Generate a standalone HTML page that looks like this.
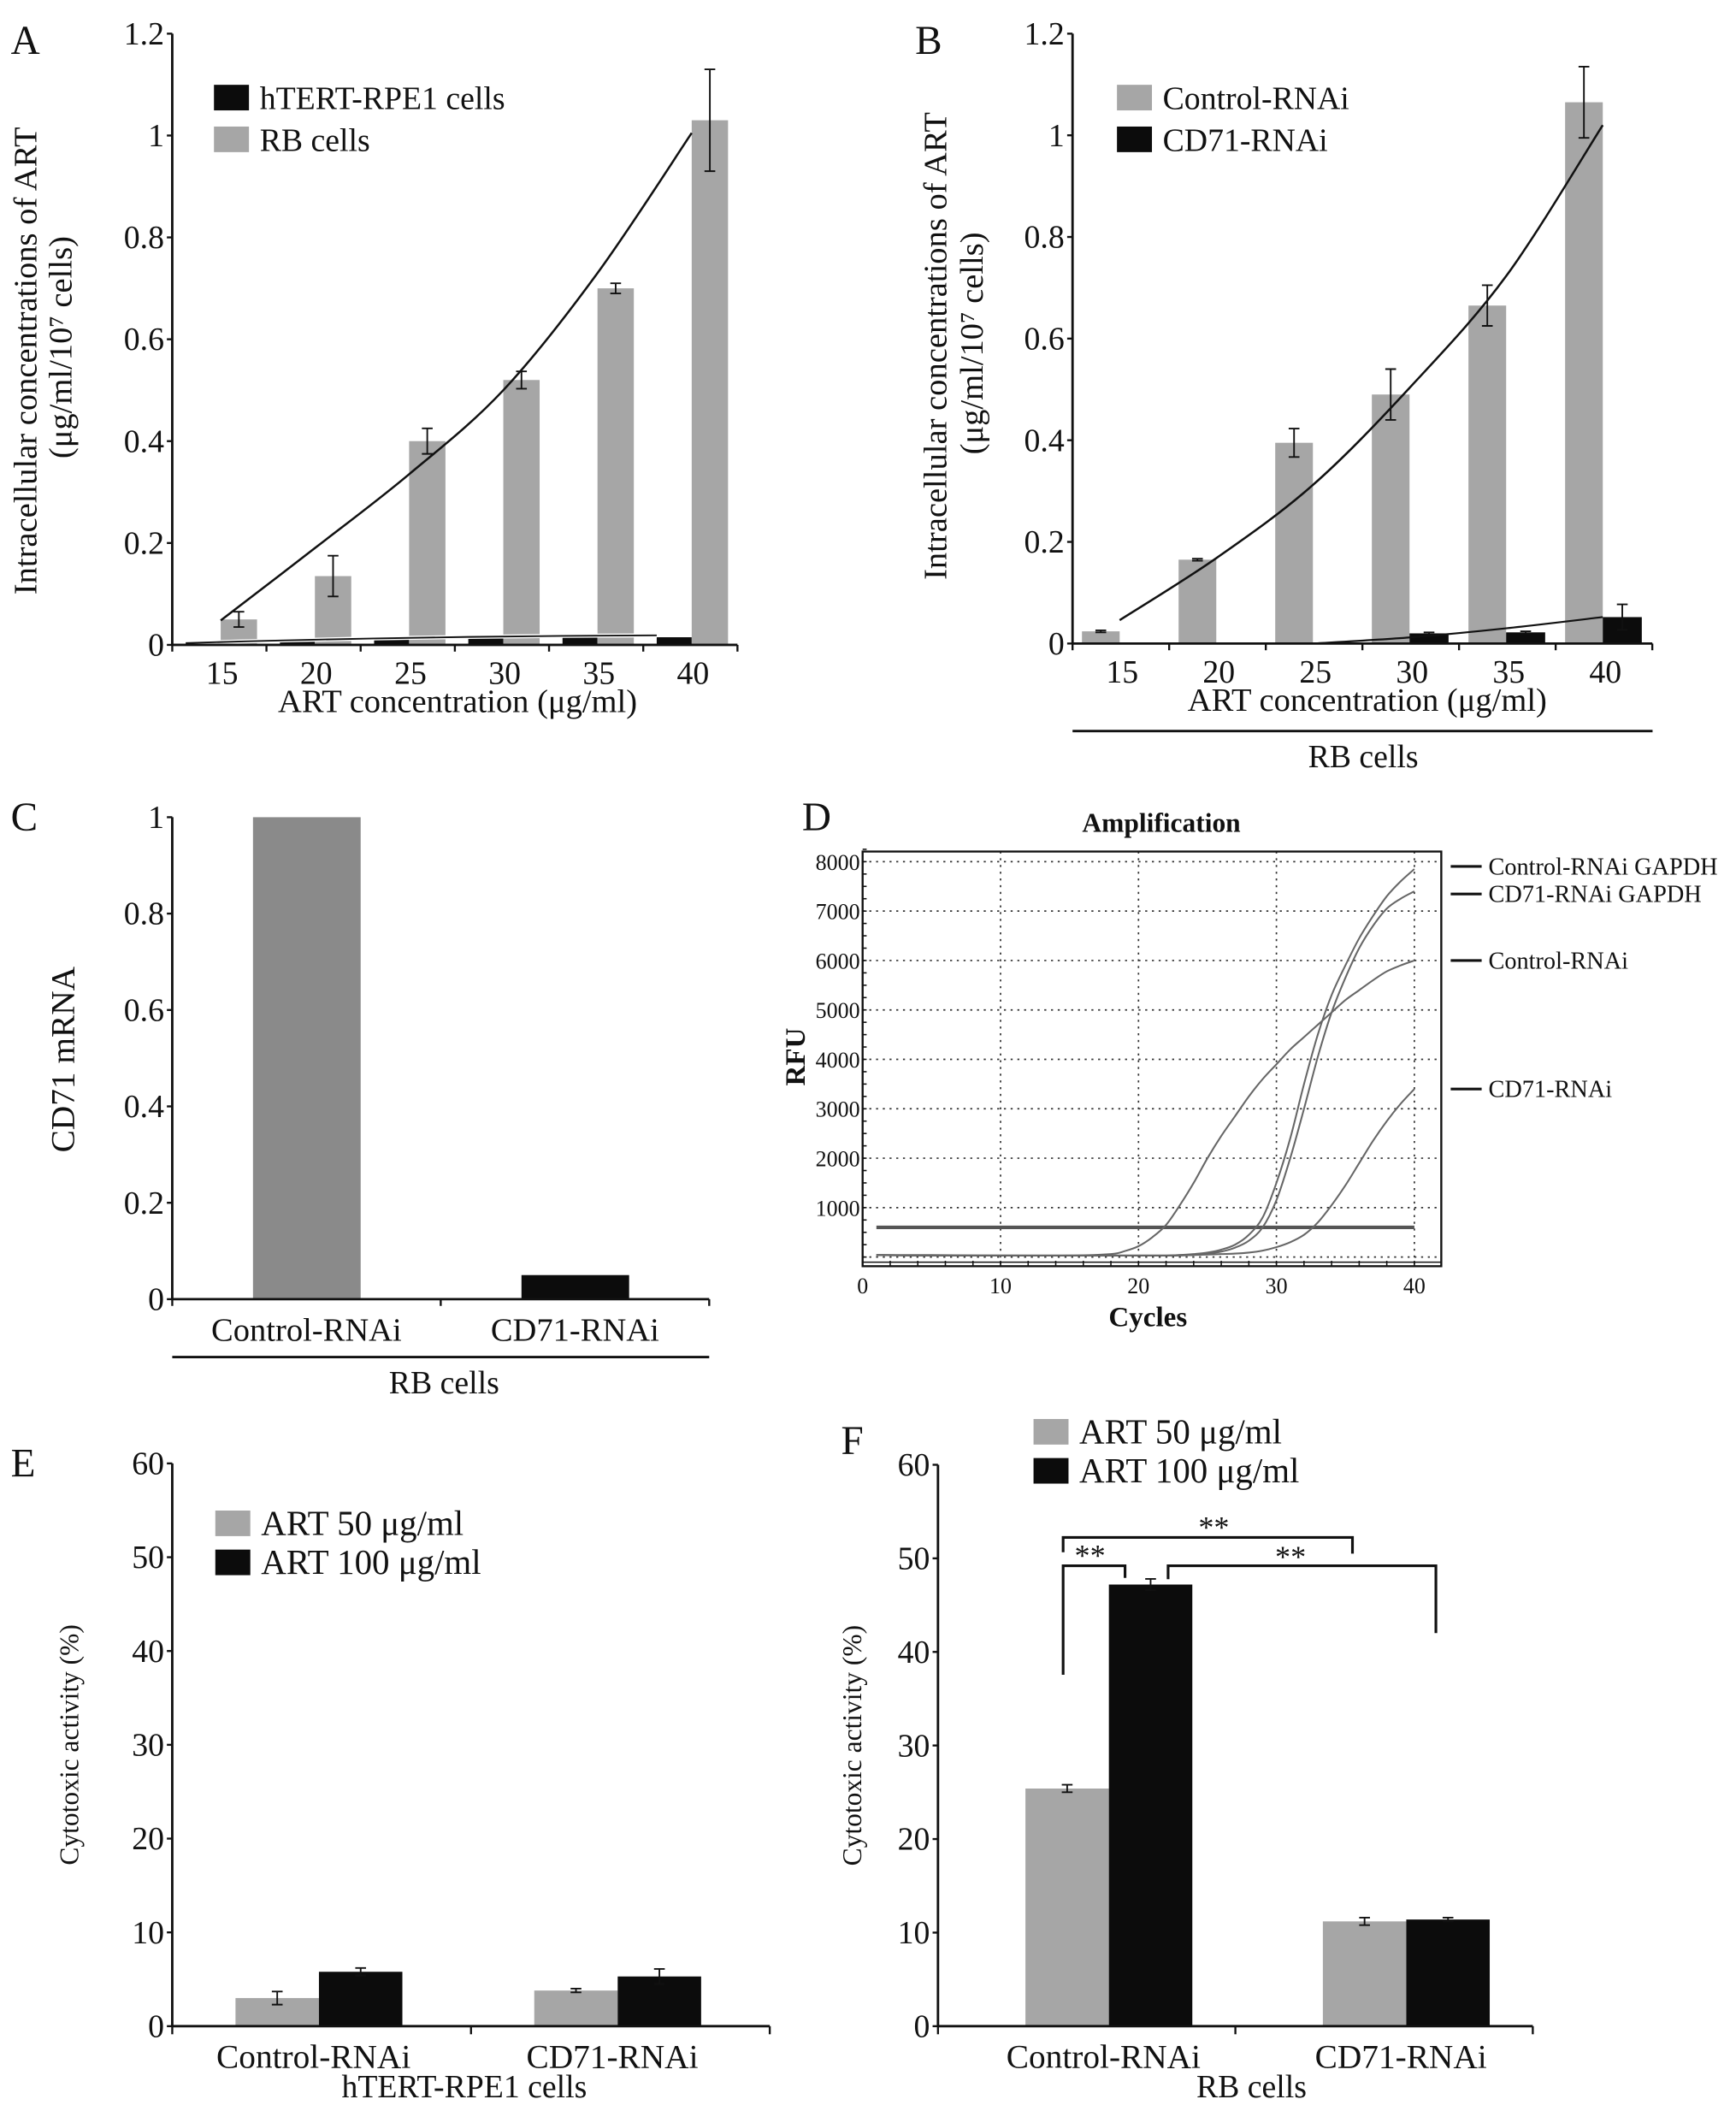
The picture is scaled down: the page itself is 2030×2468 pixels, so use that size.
<!DOCTYPE html>
<html><head><meta charset="utf-8">
<style>
html,body{margin:0;padding:0;background:#fff;}
svg{display:block;font-family:"Liberation Serif",serif;}
</style></head>
<body>
<svg id="fig" xmlns="http://www.w3.org/2000/svg" width="2030" height="2468" viewBox="0 0 1290 1568" preserveAspectRatio="none">
<rect x="0" y="0" width="1300" height="1581" fill="#fff"/>
<g font-size="30" fill="#111">
<text x="8" y="40">A</text>
<text x="680" y="40">B</text>
<text x="8" y="617">C</text>
<text x="596" y="617">D</text>
<text x="8" y="1097">E</text>
<text x="625" y="1080">F</text>
</g>
</svg>
<script>
const NS='http://www.w3.org/2000/svg';
const svg=document.getElementById('fig');
function mk(tag,attrs,parent){const e=document.createElementNS(NS,tag);for(const k in attrs)e.setAttribute(k,attrs[k]);(parent||svg).appendChild(e);return e;}
function txt(s,attrs,parent){const e=mk('text',attrs,parent);e.textContent=s;return e;}
function smooth(pts){let d='M'+pts[0][0]+','+pts[0][1];for(let i=0;i<pts.length-1;i++){const p0=pts[Math.max(0,i-1)],p1=pts[i],p2=pts[i+1],p3=pts[Math.min(pts.length-1,i+2)];const c1=[p1[0]+(p2[0]-p0[0])/6,p1[1]+(p2[1]-p0[1])/6],c2=[p2[0]-(p3[0]-p1[0])/6,p2[1]-(p3[1]-p1[1])/6];d+=' C'+c1+' '+c2+' '+p2;}return d;}
const GRAY='#a6a6a6',BLACK='#0c0c0c';

// ===== Panel A data =====
const aCats=['15','20','25','30','35','40'];
const aRpe=[0.002,0.008,0.012,0.015,0.015,0.015];
const aRb=[0.05,0.135,0.40,0.52,0.70,1.03];
const aRbErr=[0.015,0.04,0.025,0.017,0.01,0.1];
const aTrendRb=[0.048,0.19,0.335,0.5,0.73,1.005];
const aTrendRpe=[0.001,0.006,0.01,0.013,0.015,0.016];
const abTicks=[0,0.2,0.4,0.6,0.8,1,1.2];
const abTickLabels=['0','0.2','0.4','0.6','0.8','1','1.2'];
// ===== Panel B data =====
const bCats=['15','20','25','30','35','40'];
const bCtrl=[0.024,0.165,0.395,0.49,0.665,1.065];
const bCtrlErr=[0.002,0.002,0.028,0.05,0.04,0.07];
const bCd71=[0.002,0,0.002,0.02,0.022,0.052];
const bCd71Err=[0,0,0,0.002,0.002,0.025];
const bTrendCtrl=[0.046,0.168,0.312,0.503,0.723,1.02];
const bTrendCd71=[null,null,0,0.012,0.03,0.052];
// ===== Panel C data =====
const cCats=['Control-RNAi','CD71-RNAi'];
const cVals=[1.0,0.05];
const cTicks=[0,0.2,0.4,0.6,0.8,1];
const cTickLabels=['0','0.2','0.4','0.6','0.8','1'];
// ===== Panel D data =====
const dCycles=[1,5,10,15,18,19,20,21,22,23,24,25,26,27,28,29,30,31,32,33,34,35,36,37,38,39,40];
const dCtrl=[40,40,30,30,60,120,220,400,650,1050,1500,2000,2450,2850,3250,3600,3900,4200,4450,4700,4950,5200,5400,5600,5780,5900,6000];
const dCtrlGapdh=[40,30,30,30,30,30,30,30,30,40,60,90,150,250,450,800,1500,2400,3500,4500,5300,5900,6450,6900,7300,7600,7850];
const dCd71Gapdh=[40,30,30,30,30,30,30,30,30,40,50,70,110,190,330,600,1150,2000,3000,4050,4950,5650,6250,6700,7050,7250,7400];
const dCd71=[40,30,30,30,30,30,30,30,30,30,40,50,60,70,90,130,200,300,450,700,1050,1450,1900,2350,2750,3100,3400];
const dThreshold=600;
const dYTicks=[1000,2000,3000,4000,5000,6000,7000,8000];
const dXTicks=[0,10,20,30,40];
// ===== Panel E data =====
const eCats=['Control-RNAi','CD71-RNAi'];
const e50=[3.0,3.8];
const e50Err=[0.7,0.2];
const e100=[5.8,5.3];
const e100Err=[0.4,0.8];
const efTicks=[0,10,20,30,40,50,60];
const efTickLabels=['0','10','20','30','40','50','60'];
// ===== Panel F data =====
const fCats=['Control-RNAi','CD71-RNAi'];
const f50=[25.4,11.2];
const f50Err=[0.4,0.4];
const f100=[47.2,11.4];
const f100Err=[0.6,0.2];

function yAxis(g,x,yf,ticks,labels,fs,name){
  const top=yf(ticks[ticks.length-1]),bot=yf(ticks[0]);
  const l=mk('line',{x1:x,y1:top,x2:x,y2:bot,stroke:'#111','stroke-width':1.8},g);
  
  
  ticks.forEach((t,i)=>{
    const tk=mk('line',{x1:x-4,y1:yf(t),x2:x,y2:yf(t),stroke:'#111','stroke-width':1.5},g);
    
    
    const tl=txt(labels[i],{x:x-6,y:yf(t)+8,'text-anchor':'end','font-size':fs,fill:'#111'},g);
    
    
  });
}
function errBar(g,cx,yf,v,e,name){
  if(!e)return;
  const w=4;
  const p=mk('path',{d:`M${cx},${yf(v+e)}V${yf(v-e)}M${cx-w},${yf(v+e)}H${cx+w}M${cx-w},${yf(v-e)}H${cx+w}`,stroke:'#111','stroke-width':1.2,fill:'none'},g);
  
  
}
function legend(g,x,y,color,label,fs,name){
  const r=mk('rect',{x:x,y:y,width:26,height:19,fill:color},g);
  
  
  const t=txt(label,{x:x+34,y:y+18,'font-size':fs,fill:'#111'},g);
  
  
}

// ===== Panel A =====
(function(){
  const g=mk('g',{});
  
  
  const x0=128,cw=70,y0=479,yt=25;
  const yf=v=>y0-v/1.2*(y0-yt);
  aCats.forEach((c,i)=>{
    const L=x0+i*cw;
    const b=mk('rect',{x:L+10,y:yf(aRpe[i]),width:26,height:y0-yf(aRpe[i]),fill:BLACK},g);
    
    
    const r=mk('rect',{x:L+36,y:yf(aRb[i]),width:27,height:y0-yf(aRb[i]),fill:GRAY},g);
    
    
    errBar(g,L+49.5,yf,aRb[i],aRbErr[i],'error-bar-rb-'+c);
    const t=txt(c,{x:L+cw/2+2,y:y0+29,'text-anchor':'middle','font-size':24,fill:'#111'},g);
    
    
  });
  const tp=aTrendRb.map((v,i)=>[x0+i*cw+36,yf(v)]);
  const tr=mk('path',{d:smooth(tp),stroke:'#111','stroke-width':1.6,fill:'none'},g);
  
  
  const tp2=aTrendRpe.map((v,i)=>[x0+i*cw+10,yf(v)-1]);
  const tr2=mk('path',{d:smooth(tp2),stroke:'#fff','stroke-width':3,fill:'none'},g);
  
  
  const tr3=mk('path',{d:smooth(tp2),stroke:'#111','stroke-width':1.2,fill:'none'},g);
  
  
  yAxis(g,x0,yf,abTicks,abTickLabels,24,'panel-a');
  const xa=mk('line',{x1:x0,y1:y0,x2:x0+6*cw,y2:y0,stroke:'#111','stroke-width':1.8},g);
  
  
  for(let i=0;i<=6;i++){const k=mk('line',{x1:x0+i*cw,y1:y0,x2:x0+i*cw,y2:y0+5,stroke:'#111','stroke-width':1.5},g);
    
    }
  const xt=txt('ART concentration (μg/ml)',{x:340,y:529,'text-anchor':'middle','font-size':24.5,fill:'#111'},g);
  
  
  const y1=txt('Intracellular concentrations of ART',{x:0,y:0,transform:'translate(27,268) rotate(-90)','text-anchor':'middle','font-size':24.5,fill:'#111'},g);
  
  
  const y2=txt('(μg/ml/10⁷ cells)',{x:0,y:0,transform:'translate(53,258) rotate(-90)','text-anchor':'middle','font-size':24.5,fill:'#111'},g);
  
  
  legend(g,159,63,BLACK,'hTERT-RPE1 cells',24,'legend-rpe1');
  legend(g,159,94,GRAY,'RB cells',24,'legend-rb');
})();

// ===== Panel B =====
(function(){
  const g=mk('g',{});
  
  
  const x0=797,cw=71.8,y0=478,yt=25;
  const yf=v=>y0-v/1.2*(y0-yt);
  bCats.forEach((c,i)=>{
    const L=x0+i*cw;
    const r=mk('rect',{x:L+7,y:yf(bCtrl[i]),width:28,height:y0-yf(bCtrl[i]),fill:GRAY},g);
    
    
    errBar(g,L+21,yf,bCtrl[i],bCtrlErr[i],'error-bar-control-'+c);
    const b=mk('rect',{x:L+35,y:yf(bCd71[i]),width:29,height:y0-yf(bCd71[i]),fill:BLACK},g);
    
    
    errBar(g,L+49.5,yf,bCd71[i],bCd71Err[i],'error-bar-cd71-'+c);
    const t=txt(c,{x:L+cw/2+1,y:y0+29,'text-anchor':'middle','font-size':24,fill:'#111'},g);
    
    
  });
  const tp=bTrendCtrl.map((v,i)=>[x0+i*cw+35,yf(v)]);
  const tr=mk('path',{d:smooth(tp),stroke:'#111','stroke-width':1.6,fill:'none'},g);
  
  
  const tp2=[];bTrendCd71.forEach((v,i)=>{if(v!==null)tp2.push([x0+i*cw+35,yf(v)]);});
  const tr2=mk('path',{d:smooth(tp2),stroke:'#111','stroke-width':1.4,fill:'none'},g);
  
  
  yAxis(g,x0,yf,abTicks,abTickLabels,24,'panel-b');
  const xa=mk('line',{x1:x0,y1:y0,x2:x0+6*cw,y2:y0,stroke:'#111','stroke-width':1.8},g);
  
  
  for(let i=0;i<=6;i++){const k=mk('line',{x1:x0+i*cw,y1:y0,x2:x0+i*cw,y2:y0+5,stroke:'#111','stroke-width':1.5},g);
    
    }
  const xt=txt('ART concentration (μg/ml)',{x:1016,y:528,'text-anchor':'middle','font-size':24.5,fill:'#111'},g);
  
  
  const gl=mk('line',{x1:797,y1:543,x2:1228,y2:543,stroke:'#111','stroke-width':1.8},g);
  
  
  const gt=txt('RB cells',{x:1013,y:570,'text-anchor':'middle','font-size':24,fill:'#111'},g);
  
  
  const y1=txt('Intracellular concentrations of ART',{x:0,y:0,transform:'translate(703,257) rotate(-90)','text-anchor':'middle','font-size':24.5,fill:'#111'},g);
  
  
  const y2=txt('(μg/ml/10⁷ cells)',{x:0,y:0,transform:'translate(730,255) rotate(-90)','text-anchor':'middle','font-size':24.5,fill:'#111'},g);
  
  
  legend(g,830,63,GRAY,'Control-RNAi',24,'legend-control-rnai');
  legend(g,830,94,BLACK,'CD71-RNAi',24,'legend-cd71-rnai');
})();

// ===== Panel C =====
(function(){
  const g=mk('g',{});
  
  
  const x0=128,cw=199.5,y0=965,yt=607;
  const yf=v=>y0-v*(y0-yt);
  const cols=['#8a8a8a',BLACK];
  cCats.forEach((c,i)=>{
    const L=x0+i*cw;
    const r=mk('rect',{x:L+60,y:yf(cVals[i]),width:80,height:y0-yf(cVals[i]),fill:cols[i]},g);
    
    
    const t=txt(c,{x:L+cw/2,y:996,'text-anchor':'middle','font-size':24.5,fill:'#111'},g);
    
    
  });
  yAxis(g,x0,yf,cTicks,cTickLabels,24,'panel-c');
  const xa=mk('line',{x1:x0,y1:y0,x2:x0+2*cw,y2:y0,stroke:'#111','stroke-width':1.8},g);
  
  
  for(let i=0;i<=2;i++){const k=mk('line',{x1:x0+i*cw,y1:y0,x2:x0+i*cw,y2:y0+5,stroke:'#111','stroke-width':1.5},g);
    
    }
  const gl=mk('line',{x1:128,y1:1008,x2:527,y2:1008,stroke:'#111','stroke-width':1.8},g);
  
  
  const gt=txt('RB cells',{x:330,y:1035,'text-anchor':'middle','font-size':24,fill:'#111'},g);
  
  
  const yt1=txt('CD71 mRNA',{x:0,y:0,transform:'translate(55,787) rotate(-90)','text-anchor':'middle','font-size':25,fill:'#111'},g);
  
  
})();

// ===== Panel D =====
(function(){
  const g=mk('g',{});
  
  
  const xf=c=>641+c*10.25, yf=r=>933.7-r*0.03671;
  const L=641,R=1071,T=632.5,B=940.5;
  dYTicks.forEach(t=>{
    const l=mk('line',{x1:L,y1:yf(t),x2:R,y2:yf(t),stroke:'#333','stroke-width':1.1,'stroke-dasharray':'1.5,3.5'},g);
    
    
    const tl=txt(String(t),{x:L-2,y:yf(t)+6,'text-anchor':'end','font-size':16.5,fill:'#111'},g);
    
    
  });
  const l0=mk('line',{x1:L,y1:yf(0),x2:R,y2:yf(0),stroke:'#333','stroke-width':1.1,'stroke-dasharray':'1.5,3.5'},g);
  
  
  dXTicks.forEach(t=>{
    if(t>0){const l=mk('line',{x1:xf(t),y1:T,x2:xf(t),y2:B,stroke:'#333','stroke-width':1.1,'stroke-dasharray':'1.5,3.5'},g);
      
      }
    const tl=txt(String(t),{x:xf(t),y:B+20,'text-anchor':'middle','font-size':16.5,fill:'#111'},g);
    
    
  });
  for(let c=0;c<=40;c+=2){const k=mk('line',{x1:xf(c),y1:B-4,x2:xf(c),y2:B,stroke:'#111','stroke-width':1},g);
    
    }
  for(let r=0;r<=8400;r+=250){const k=mk('line',{x1:L,y1:yf(r),x2:L+3,y2:yf(r),stroke:'#111','stroke-width':1},g);
    
    }
  const box=mk('rect',{x:L,y:T,width:R-L,height:B-T,fill:'none',stroke:'#111','stroke-width':1.5},g);
  
  
  const bl=mk('line',{x1:L,y1:B-3,x2:R,y2:B-3,stroke:'#111','stroke-width':1},g);
  
  
  const th=mk('line',{x1:xf(1),y1:yf(dThreshold),x2:xf(40),y2:yf(dThreshold),stroke:'#555','stroke-width':2.6},g);
  
  
  const series=[[dCtrl,'curve-control-rnai'],[dCtrlGapdh,'curve-control-rnai-gapdh'],[dCd71Gapdh,'curve-cd71-rnai-gapdh'],[dCd71,'curve-cd71-rnai']];
  series.forEach(([arr,name])=>{
    const p=mk('path',{d:smooth(dCycles.map((c,i)=>[xf(c),yf(arr[i])])),stroke:'#666','stroke-width':1.3,fill:'none'},g);
    
    
  });
  const labs=[['Control-RNAi GAPDH',dCtrlGapdh],['CD71-RNAi GAPDH',dCd71Gapdh],['Control-RNAi',dCtrl],['CD71-RNAi',dCd71]];
  labs.forEach(([s,arr],i)=>{
    const yy=yf(arr[arr.length-1])+(i===0?-2:0)+(i===1?2:0);
    const m=mk('line',{x1:1078,y1:yy,x2:1101,y2:yy,stroke:'#111','stroke-width':2},g);
    
    
    const t=txt(s,{x:1106,y:yy+6,'font-size':18,fill:'#111'},g);
    
    
  });
  const ti=txt('Amplification',{x:863,y:618,'text-anchor':'middle','font-size':20,'font-weight':'bold',fill:'#111'},g);
  
  
  const xt=txt('Cycles',{x:853,y:985,'text-anchor':'middle','font-size':21,'font-weight':'bold',fill:'#111'},g);
  
  
  const yt=txt('RFU',{x:0,y:0,transform:'translate(598,785) rotate(-90)','text-anchor':'middle','font-size':21,'font-weight':'bold',fill:'#111'},g);
  
  
})();

// ===== Panels E & F =====
function cyto(cfg){
  const g=mk('g',{});
  
  
  const {x0,cw,y0,yt,gOff}=cfg;
  const yf=v=>y0-v/60*(y0-yt);
  cfg.cats.forEach((c,i)=>{
    const L=x0+i*cw;
    const r=mk('rect',{x:L+gOff,y:yf(cfg.v50[i]),width:62,height:y0-yf(cfg.v50[i]),fill:GRAY},g);
    
    
    errBar(g,L+gOff+31,yf,cfg.v50[i],cfg.e50[i],'error-bar-art50');
    const b=mk('rect',{x:L+gOff+62,y:yf(cfg.v100[i]),width:62,height:y0-yf(cfg.v100[i]),fill:BLACK},g);
    
    
    errBar(g,L+gOff+93,yf,cfg.v100[i],cfg.e100[i],'error-bar-art100');
    const t=txt(c,{x:L+gOff+58,y:y0+31,'text-anchor':'middle','font-size':25,fill:'#111'},g);
    
    
  });
  yAxis(g,x0,yf,efTicks,efTickLabels,24,cfg.name);
  const xa=mk('line',{x1:x0,y1:y0,x2:x0+2*cw,y2:y0,stroke:'#111','stroke-width':1.8},g);
  
  
  for(let i=0;i<=2;i++){const k=mk('line',{x1:x0+i*cw,y1:y0,x2:x0+i*cw,y2:y0+6,stroke:'#111','stroke-width':1.5},g);
    
    }
  const gt=txt(cfg.group,{x:cfg.groupX,y:y0+53,'text-anchor':'middle','font-size':24,fill:'#111'},g);
  
  
  const ytl=txt('Cytotoxic activity (%)',{x:0,y:0,transform:`translate(${cfg.ytX},${(y0+yt)/2}) rotate(-90)`,'text-anchor':'middle','font-size':20,fill:'#111'},g);
  
  
  legend(g,cfg.legX,cfg.legY,GRAY,'ART 50 μg/ml',26,cfg.name+'-legend-art50');
  legend(g,cfg.legX,cfg.legY+29,BLACK,'ART 100 μg/ml',26,cfg.name+'-legend-art100');
  return g;
}
cyto({name:'panel-e',cats:eCats,v50:e50,e50:e50Err,v100:e100,e100:e100Err,x0:128,cw:222,y0:1505,yt:1087,gOff:47,group:'hTERT-RPE1 cells',groupX:345,ytX:58,legX:160,legY:1122});
const gF=cyto({name:'panel-f',cats:fCats,v50:f50,e50:f50Err,v100:f100,e100:f100Err,x0:697,cw:221,y0:1505,yt:1088,gOff:65,group:'RB cells',groupX:930,ytX:640,legX:768,legY:1054});
// significance brackets (panel F)
const brk=[
 ['M790,1153V1142H1005V1154','bracket-control-vs-cd71'],
 ['M790,1244V1163H836V1172','bracket-art50-vs-art100'],
 ['M868,1173V1163H1067V1213','bracket-art100-vs-cd71']];
brk.forEach(([d,n])=>{
  const p=mk('path',{d:d,stroke:'#111','stroke-width':2,fill:'none'},gF);
  
  
});
[[902,1142],[810,1163],[959,1164]].forEach(([x,y])=>{
  const s=txt('**',{x:x,y:y,'text-anchor':'middle','font-size':23,fill:'#111'},gF);
  
  
});
</script>
</body></html>
